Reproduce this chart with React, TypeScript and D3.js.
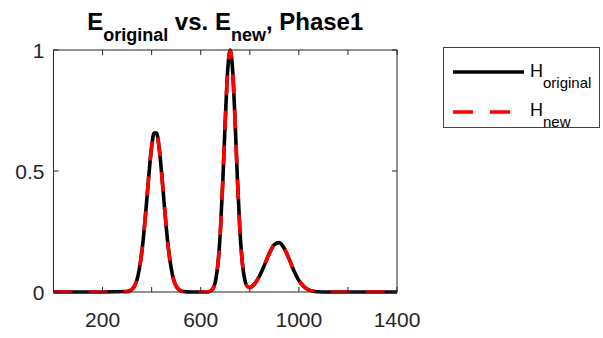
import React from "react";
import * as d3 from "d3";

// energy axis samples (non-uniform: denser around the peaks)
const energy = [
  0, 100, 200, 300, 310, 320, 330, 340, 350, 360, 370, 380, 390, 400, 410, 420,
  430, 440, 450, 460, 470, 480, 490, 500, 510, 520, 530, 560, 620, 630, 640,
  650, 660, 670, 680, 690, 700, 710, 720, 730, 740, 750, 760, 770, 780, 790,
  800, 810, 820, 840, 860, 880, 900, 920, 940, 960, 980, 1000, 1020, 1040,
  1060, 1080, 1100, 1200, 1300, 1400,
];

const hOriginal = [
  0, 0, 0, 0.002, 0.004, 0.011, 0.024, 0.05, 0.096, 0.166, 0.262, 0.379, 0.499,
  0.6, 0.657, 0.657, 0.6, 0.499, 0.379, 0.262, 0.166, 0.096, 0.05, 0.024, 0.011,
  0.004, 0.002, 0, 0, 0.001, 0.004, 0.014, 0.044, 0.114, 0.249, 0.458, 0.707,
  0.917, 1.0, 0.917, 0.707, 0.458, 0.251, 0.117, 0.049, 0.023, 0.019, 0.024,
  0.034, 0.067, 0.112, 0.16, 0.196, 0.204, 0.181, 0.137, 0.088, 0.048, 0.023,
  0.009, 0.003, 0.001, 0, 0, 0, 0,
];

const hNew = [
  0, 0, 0, 0.002, 0.004, 0.011, 0.024, 0.05, 0.096, 0.166, 0.262, 0.379, 0.499,
  0.6, 0.657, 0.657, 0.6, 0.499, 0.379, 0.262, 0.166, 0.096, 0.05, 0.024, 0.011,
  0.004, 0.002, 0, 0, 0.001, 0.004, 0.014, 0.044, 0.114, 0.249, 0.458, 0.707,
  0.917, 1.0, 0.917, 0.707, 0.458, 0.251, 0.117, 0.049, 0.023, 0.019, 0.024,
  0.034, 0.067, 0.112, 0.16, 0.196, 0.204, 0.181, 0.137, 0.088, 0.048, 0.023,
  0.009, 0.003, 0.001, 0, 0, 0, 0,
];

const xTicks = [200, 400, 600, 800, 1000, 1200, 1400];
const xTickLabels = [200, 600, 1000, 1400];
const yTicks = [0, 0.5, 1];
const yTickLabels = ["0", "0.5", "1"];

const W = 603;
const H = 338;
const AX = "#262626";
const FONT = "'Liberation Sans', Arial, Helvetica, sans-serif";

export default function App() {
  const x = d3.scaleLinear().domain([0, 1400]).range([53.5, 397]);
  const y = d3.scaleLinear().domain([0, 1]).range([292, 50]);
  const [x0, x1] = x.range();
  const [y0, y1] = y.range();

  const line = d3
    .line<number>()
    .x((_, i) => x(energy[i]))
    .y((d) => y(d))
    .curve(d3.curveMonotoneX);

  const tick = 5;

  return (
    <svg
      width={W}
      height={H}
      style={{ position: "absolute", left: 0, top: 0, background: "#fff" }}
      fontFamily={FONT}
    >
      {/* curves */}
      <path d={line(hOriginal) || ""} fill="none" stroke="#000" strokeWidth={3.6} />
      <path
        d={line(hNew) || ""}
        fill="none"
        stroke="#ff0000"
        strokeWidth={3.6}
        strokeDasharray="19 16"
      />

      {/* box */}
      <rect
        x={x0}
        y={y1}
        width={x1 - x0}
        height={y0 - y1}
        fill="none"
        stroke={AX}
        strokeWidth={1}
      />
      {xTicks.map((t) => (
        <g key={"xt" + t}>
          <line x1={x(t)} x2={x(t)} y1={y0} y2={y0 - tick} stroke={AX} />
          <line x1={x(t)} x2={x(t)} y1={y1} y2={y1 + tick} stroke={AX} />
        </g>
      ))}
      {yTicks.map((t) => (
        <g key={"yt" + t}>
          <line x1={x0} x2={x0 + tick} y1={y(t)} y2={y(t)} stroke={AX} />
          <line x1={x1} x2={x1 - tick} y1={y(t)} y2={y(t)} stroke={AX} />
        </g>
      ))}
      {xTickLabels.map((t) => (
        <text
          key={"xl" + t}
          x={x(t)}
          y={327}
          textAnchor="middle"
          fontSize={21}
          fill={AX}
        >
          {t}
        </text>
      ))}
      {yTicks.map((t, i) => (
        <text
          key={"yl" + t}
          x={x0 - 9}
          y={y(t) + 7.5}
          textAnchor="end"
          fontSize={21}
          fill={AX}
        >
          {yTickLabels[i]}
        </text>
      ))}

      {/* title */}
      <text
        x={(x0 + x1) / 2}
        y={30}
        textAnchor="middle"
        fontWeight="bold"
        fontSize={24}
        fill="#000"
      >
        E
        <tspan fontSize={18} dy={11}>
          original
        </tspan>
        <tspan dy={-11}> vs. E</tspan>
        <tspan fontSize={18} dy={11}>
          new
        </tspan>
        <tspan dy={-11}>, Phase1</tspan>
      </text>

      {/* legend */}
      <rect x={443.5} y={47.5} width={156} height={80} fill="#fff" stroke="#444" strokeWidth={1} />
      <line x1={453} x2={524} y1={72} y2={72} stroke="#000" strokeWidth={3.6} />
      <line
        x1={453}
        x2={524}
        y1={112}
        y2={112}
        stroke="#ff0000"
        strokeWidth={3.6}
        strokeDasharray="20 17"
      />
      <text x={530} y={77} fontSize={18} fill="#000">
        H
        <tspan fontSize={15} dy={11}>
          original
        </tspan>
      </text>
      <text x={530} y={116} fontSize={18} fill="#000">
        H
        <tspan fontSize={15} dy={11}>
          new
        </tspan>
      </text>
    </svg>
  );
}
